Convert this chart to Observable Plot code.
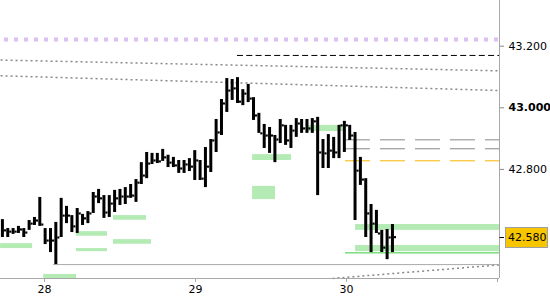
<!DOCTYPE html>
<html><head><meta charset="utf-8">
<script src="https://cdn.jsdelivr.net/npm/d3@7"></script>
<script src="https://cdn.jsdelivr.net/npm/@observablehq/plot@0.6"></script>
<style>body{margin:0;background:#fff} svg{display:block}</style>
</head><body><div id="chart"></div>
<script>
// ---- data ----
const barStart = 27.7212;   // day of first bar
const barStep = 0.035384;   // bar interval in days
const highs = [42.637,42.608,42.608,42.615,42.608,42.634,42.644,42.709,42.608,42.608,
  42.628,42.706,42.680,42.650,42.673,42.654,42.663,42.725,42.735,42.715,
  42.715,42.732,42.735,42.741,42.751,42.767,42.822,42.855,42.852,42.852,
  42.865,42.846,42.839,42.829,42.829,42.835,42.861,42.829,42.871,42.897,
  42.962,43.027,43.095,43.092,43.098,43.059,43.076,43.033,42.982,42.946,
  42.936,42.910,42.962,42.943,42.943,42.965,42.962,42.962,42.965,42.969,
  42.897,42.913,42.904,42.943,42.956,42.943,42.920,42.839,42.770,42.686,
  42.667,42.602,42.605,42.621];
const lows = [42.579,42.579,42.589,42.592,42.579,42.602,42.618,42.615,42.556,42.530,
  42.491,42.579,42.624,42.595,42.592,42.618,42.624,42.657,42.689,42.641,
  42.644,42.660,42.683,42.686,42.706,42.693,42.751,42.770,42.816,42.819,
  42.826,42.806,42.806,42.787,42.787,42.793,42.764,42.764,42.741,42.790,
  42.855,42.910,42.985,43.024,43.014,43.007,43.017,42.959,42.917,42.868,
  42.852,42.822,42.884,42.878,42.868,42.904,42.917,42.917,42.917,42.715,
  42.803,42.803,42.835,42.835,42.855,42.894,42.634,42.748,42.579,42.530,
  42.592,42.530,42.507,42.530];
const closes = [42.602,42.598,42.598,42.605,42.595,42.624,42.634,42.621,42.569,42.569,
  42.579,42.650,42.650,42.615,42.657,42.641,42.657,42.712,42.706,42.660,
  42.689,42.706,42.712,42.712,42.715,42.757,42.780,42.819,42.829,42.826,
  42.839,42.822,42.813,42.803,42.816,42.809,42.829,42.770,42.809,42.894,
  42.920,43.014,43.056,43.063,43.020,43.046,43.030,42.975,42.917,42.910,
  42.910,42.897,42.943,42.894,42.926,42.949,42.933,42.933,42.956,42.855,
  42.852,42.861,42.855,42.943,42.943,42.910,42.796,42.767,42.657,42.624,
  42.592,42.546,42.579,42.580];

// supply / demand zones: [startDay, endDay, lowPrice, highPrice]
const zoneStart = [27.709,27.995,28.212,28.212,28.457,28.457,29.378,29.378,29.742,30.060,30.060];
const zoneEnd   = [27.921,28.212,28.417,28.417,28.676,28.709,29.636,29.530,29.987,31.013,31.013];
const zoneLow   = [42.543,42.445,42.583,42.533,42.635,42.557,42.829,42.702,42.923,42.602,42.533];
const zoneHigh  = [42.559,42.459,42.598,42.543,42.650,42.572,42.848,42.745,42.943,42.621,42.553];

// trend lines: [day1, price1, day2, price2]
const trendDay1 = [27.709, 27.709, 29.907];
const trendP1   = [43.155, 43.104, 42.446];
const trendDay2 = [31.013, 31.013, 31.013];
const trendP2   = [43.120, 43.056, 42.490];

const purpleLevel = 43.222;
const blackLevel = 43.170, blackFrom = 29.278;
const grayLevels = [42.896, 42.867], grayFrom = 29.993;
const orangeLevel = 42.828, orangeFrom = 29.993;
const greenLevel = 42.529, greenFrom = 29.993;
const lowLevel = 42.491, lowFrom = 28.060;
const lastPrice = 42.580;

const xDomain = [27.7086, 31.0132];
const yDomain = [42.4458, 43.3484];
const dayTicks = [28, 29, 30, 31];
const dayLabels = ["28", "29", "30", ""];
const priceTicks = [42.8, 43.2];
const boldPriceTicks = [43.0];

// ---- build ----
const bars = highs.map((h, i) => ({t: barStart + i * barStep, high: h, low: lows[i], close: closes[i]}));
const zones = zoneStart.map((s, i) => ({x1: s, x2: zoneEnd[i], y1: zoneLow[i], y2: zoneHigh[i]}));
const trends = trendDay1.map((d, i) => ({x1: d, y1: trendP1[i], x2: trendDay2[i], y2: trendP2[i]}));
const xMax = xDomain[1];

const chart = Plot.plot({
  width: 550, height: 300,
  marginLeft: 0, marginRight: 51, marginTop: 0, marginBottom: 22,
  style: {fontFamily: "DejaVu Sans", fontSize: "11px", background: "#fff", color: "#000"},
  x: {domain: xDomain, axis: null},
  y: {domain: yDomain, axis: null},
  marks: [
    Plot.rect(zones, {x1: "x1", x2: "x2", y1: "y1", y2: "y2", fill: "#b4ebb4"}),
    Plot.ruleY([purpleLevel], {x1: xDomain[0], x2: xMax, stroke: "#dcc0f2", strokeWidth: 4, strokeDasharray: "4,6", strokeDashoffset: 6}),
    Plot.link(trends, {x1: "x1", y1: "y1", x2: "x2", y2: "y2", stroke: "#888", strokeWidth: 1.5, strokeDasharray: "2,3"}),
    Plot.ruleY([blackLevel], {x1: blackFrom, x2: xMax, stroke: "#000", strokeWidth: 1, strokeDasharray: "6,3.3"}),
    Plot.ruleY(grayLevels, {x1: grayFrom, x2: xMax, stroke: "#888", strokeWidth: 1, strokeDasharray: "25,10"}),
    Plot.ruleY([orangeLevel], {x1: orangeFrom, x2: xMax, stroke: "#f8b500", strokeWidth: 1, strokeDasharray: "25,10"}),
    Plot.ruleY([greenLevel], {x1: greenFrom, x2: xMax, stroke: "#3ccc3c", strokeWidth: 1}),
    Plot.ruleY([lowLevel], {x1: lowFrom, x2: xMax, stroke: "#aaa", strokeWidth: 1}),
    Plot.ruleX([xMax], {stroke: "#a8a8a8"}),
    Plot.ruleY([yDomain[0]], {stroke: "#a8a8a8"}),
    Plot.ruleX(bars, {x: "t", y1: "low", y2: "high", stroke: "#000", strokeWidth: 3}),
    Plot.dot(bars, {x: "t", y: "close", symbol: "square", r: 1.2, fill: "#000", dx: 2.5}),
    Plot.axisY({anchor: "right", ticks: priceTicks, tickFormat: d3.format(".3f"), tickSize: 4, tickPadding: 5, stroke: "#888", fill: "#000"}),
    Plot.axisY({anchor: "right", ticks: boldPriceTicks, tickFormat: d3.format(".3f"), tickSize: 4, tickPadding: 5, stroke: "#888", fill: "#000", fontWeight: "bold"}),
    Plot.axisX({anchor: "bottom", ticks: dayTicks, tickFormat: (d, i) => dayLabels[dayTicks.indexOf(d)], tickSize: 4, tickPadding: 3, stroke: "#a8a8a8", fill: "#000"})
  ]
});
document.getElementById("chart").appendChild(chart);

// current price label box on the right axis
const svg = d3.select(chart);
const yy = chart.scale("y").apply(lastPrice);
const g = svg.append("g");
g.append("line").attr("x1", 499.5).attr("x2", 504).attr("y1", Math.round(yy) + 0.5).attr("y2", Math.round(yy) + 0.5).attr("stroke", "#000");
g.append("rect").attr("x", 505.5).attr("y", Math.round(yy) - 9.5).attr("width", 42).attr("height", 20)
  .attr("fill", "#f7c600").attr("stroke", "#a0a0a0");
g.append("text").attr("x", 508).attr("y", yy).attr("dy", "0.35em").attr("fill", "#000")
  .attr("text-anchor", "start")
  .style("font", "11px 'DejaVu Sans'").text(d3.format(".3f")(lastPrice));
</script>
</body></html>
